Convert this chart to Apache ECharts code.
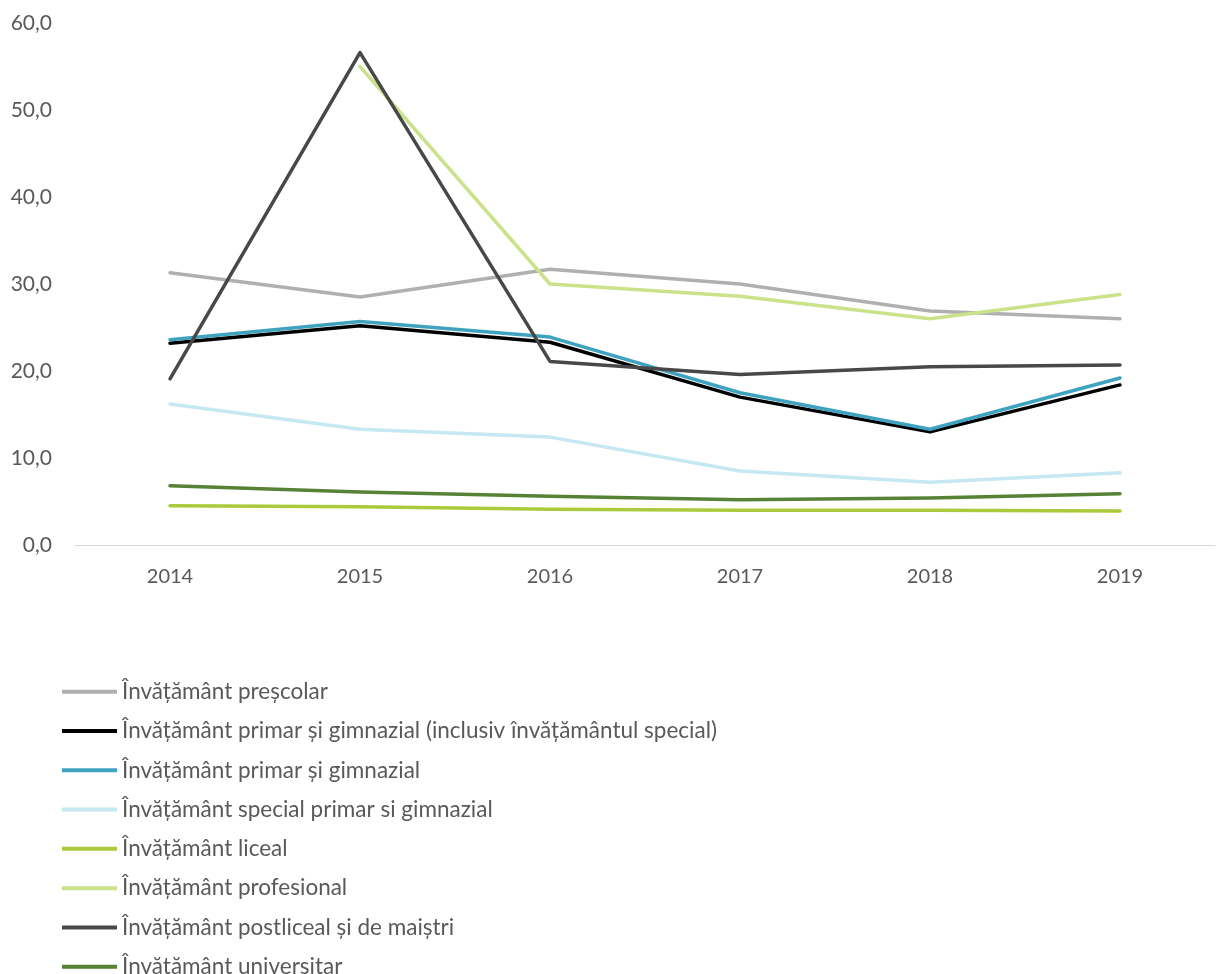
<!DOCTYPE html>
<html>
<head>
    <meta charset="utf-8">
    <script type="text/javascript" src="https://cdn.jsdelivr.net/npm/echarts@6/dist/echarts.min.js"></script>
</head>
<body style="height: 100%; margin: 0">
<div id="container" style="width: 1217px; height: 974px"></div>
<script type="text/javascript">
    var years = ['2014', '2015', '2016', '2017', '2018', '2019'];
    var yTicks = [0, 10, 20, 30, 40, 50, 60];

    var names = [
        'Învățământ preșcolar',
        'Învățământ primar și gimnazial (inclusiv învățământul special)',
        'Învățământ primar și gimnazial',
        'Învățământ special primar si gimnazial',
        'Învățământ liceal',
        'Învățământ profesional',
        'Învățământ postliceal și de maiștri',
        'Învățământ universitar'
    ];
    var colors = ['#b0b0b0', '#000000', '#3fa3bf', '#c5e8f2', '#a9cb3b', '#cbe28a', '#484848', '#558235'];

    var prescolar = [31.3, 28.5, 31.7, 30.0, 26.9, 26.0];
    var primarGimnTotal = [23.2, 25.2, 23.3, 17.0, 13.0, 18.4];
    var primarGimn = [23.6, 25.7, 23.9, 17.5, 13.3, 19.2];
    var special = [16.2, 13.3, 12.4, 8.5, 7.2, 8.3];
    var liceal = [4.5, 4.4, 4.1, 4.0, 4.0, 3.9];
    var profesional = [null, 55.0, 30.0, 28.6, 26.0, 28.8];
    var postliceal = [19.1, 56.6, 21.1, 19.6, 20.5, 20.7];
    var universitar = [6.8, 6.1, 5.6, 5.2, 5.4, 5.9];

    var seriesData = [prescolar, primarGimnTotal, primarGimn, special, liceal, profesional, postliceal, universitar];

    var dom = document.getElementById('container');
    var myChart = echarts.init(dom, null, {renderer: 'canvas'});

    var series = [];
    for (var i = 0; i < names.length; i++) {
        series.push({
            name: names[i],
            type: 'line',
            data: seriesData[i],
            symbol: 'none',
            connectNulls: false,
            lineStyle: {width: 3.5, color: colors[i], cap: 'round', join: 'round'},
            itemStyle: {color: colors[i]}
        });
    }

    var option = {
        animation: false,
        textStyle: {fontFamily: 'Lato'},
        grid: {left: 75, right: 2, top: 23, bottom: 429, containLabel: false},
        legend: {
            orient: 'vertical',
            left: 57,
            top: 675,
            height: 300,
            icon: 'rect',
            itemWidth: 55,
            itemHeight: 4,
            itemGap: 16,
            textStyle: {fontSize: 22.5, color: '#595959', lineHeight: 23.3},
            data: names
        },
        xAxis: {
            type: 'category',
            data: years,
            boundaryGap: true,
            axisLine: {lineStyle: {color: '#d9d9d9', width: 1}},
            axisTick: {show: false},
            axisLabel: {fontSize: 20, color: '#595959', margin: 22}
        },
        yAxis: {
            type: 'value',
            min: yTicks[0],
            max: yTicks[yTicks.length - 1],
            interval: 10,
            splitLine: {show: false},
            axisLine: {show: false},
            axisLabel: {
                fontSize: 21, color: '#595959', margin: 23,
                formatter: function (v) { return v.toFixed(1).replace('.', ','); }
            }
        },
        series: series
    };

    myChart.setOption(option);
    window.addEventListener('resize', myChart.resize);
</script>
</body>
</html>
